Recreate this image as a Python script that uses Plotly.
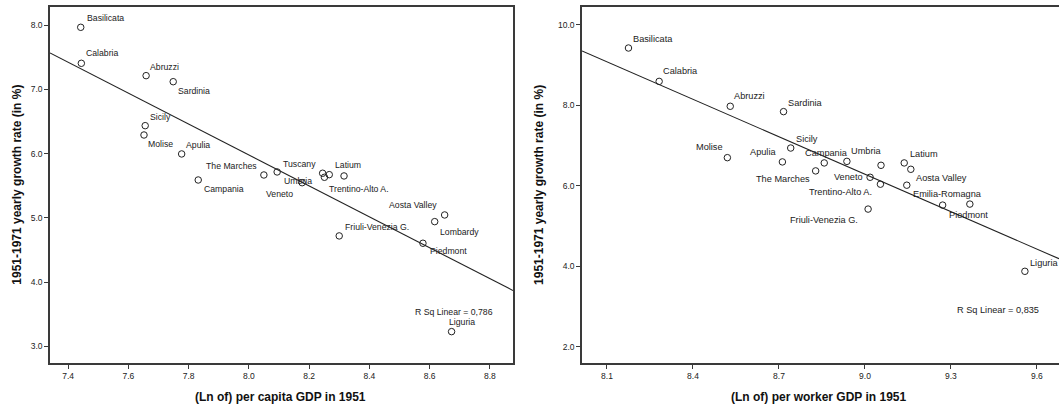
import numpy as np
import plotly.graph_objects as go

# ---------------- data ----------------
regions = ["Basilicata", "Calabria", "Abruzzi", "Sardinia", "Sicily", "Molise",
           "Apulia", "Campania", "The Marches", "Tuscany", "Veneto", "Umbria",
           "Latium", "Trentino-Alto A.", "Emilia-Romagna", "Aosta Valley",
           "Lombardy", "Piedmont", "Friuli-Venezia G.", "Liguria"]

# left panel: ln per capita GDP 1951 vs growth 1951-1971
gdp_capita_ln = [7.442, 7.444, 7.659, 7.749, 7.656, 7.652, 7.777, 7.832, 8.050, 8.094,
                 8.177, 8.245, 8.267, 8.251, 8.316, 8.650, 8.617, 8.578, 8.300, 8.673]
growth_capita = [7.964, 7.404, 7.212, 7.118, 6.434, 6.289, 5.994, 5.589, 5.667, 5.714,
                 5.547, 5.694, 5.672, 5.631, 5.652, 5.045, 4.941, 4.605, 4.719, 3.230]

# right panel: ln per worker GDP 1951 vs growth 1951-1971
gdp_worker_ln = [8.175, 8.282, 8.530, 8.716, 8.741, 8.520, 8.712, 8.858, 8.828, 9.056,
                 9.018, 8.937, 9.137, 9.054, 9.146, 9.160, 9.366, 9.271, 9.011, 9.558]
growth_worker = [9.422, 8.593, 7.975, 7.842, 6.938, 6.699, 6.593, 6.568, 6.370, 6.509,
                 6.212, 6.607, 6.568, 6.040, 6.015, 6.410, 5.546, 5.521, 5.422, 3.877]

r_sq_text = ["R Sq Linear = 0,786", "R Sq Linear = 0,835"]

x_ticks_left = [7.4, 7.6, 7.8, 8.0, 8.2, 8.4, 8.6, 8.8]
y_ticks_left = [3.0, 4.0, 5.0, 6.0, 7.0, 8.0]
x_ticks_right = [8.1, 8.4, 8.7, 9.0, 9.3, 9.6]
y_ticks_right = [2.0, 4.0, 6.0, 8.0, 10.0]

x_title_left = "(Ln of) per capita GDP in 1951"
x_title_right = "(Ln of) per worker GDP in 1951"
y_title = "1951-1971 yearly growth rate (in %)"

# ---------------- layout settings ----------------
x_range_left = [7.34, 8.877]
y_range_left = [2.742, 8.28]
x_range_right = [8.013, 9.677]
y_range_right = [1.60, 10.44]

# label placement: anchor, dx (px), dy (px, downward)
lbl_left = {
    "Basilicata": ("left", 6, -9), "Calabria": ("left", 5, -10), "Abruzzi": ("left", 4, -9),
    "Sardinia": ("left", 5, 9), "Sicily": ("left", 5, -9), "Molise": ("left", 4, 9),
    "Apulia": ("left", 4, -9), "Campania": ("left", 6, 9), "The Marches": ("right", -7, -9),
    "Tuscany": ("left", 6, -8), "Veneto": ("right", -9, 11), "Umbria": ("right", -11, 8),
    "Latium": ("left", 6, -10), "Trentino-Alto A.": ("left", 5, 12),
    "Aosta Valley": ("right", -8, -10), "Lombardy": ("left", 5, 10),
    "Piedmont": ("left", 7, 8), "Friuli-Venezia G.": ("left", 6, -9), "Liguria": ("left", -3, -10),
}
lbl_right = {
    "Basilicata": ("left", 5, -9), "Calabria": ("left", 4, -10), "Abruzzi": ("left", 4, -10),
    "Sardinia": ("left", 4, -9), "Sicily": ("left", 5, -9), "Molise": ("right", -4, -11),
    "Apulia": ("right", -6, -10), "Campania": ("left", -19, -10), "Umbria": ("left", 4, -10),
    "The Marches": ("right", -6, 8), "Veneto": ("right", -7, 0),
    "Trentino-Alto A.": ("right", -8, 8), "Latium": ("left", 6, -9),
    "Aosta Valley": ("left", 5, 9), "Emilia-Romagna": ("left", 6, 9),
    "Piedmont": ("left", 6, 10), "Friuli-Venezia G.": ("right", -10, 11),
    "Liguria": ("left", 5, -8),
}

INK = "#222222"
FONT = "Liberation Sans, Arial, sans-serif"

fig = go.Figure()

def add_panel(xs, ys, xr, xa, ya):
    xs = np.asarray(xs)
    ys = np.asarray(ys)
    slope, icpt = np.polyfit(xs, ys, 1)
    xl = np.array(xr)
    fig.add_trace(go.Scatter(x=xl, y=icpt + slope * xl, mode="lines",
                             line=dict(color=INK, width=1.1), xaxis=xa, yaxis=ya,
                             hoverinfo="skip", showlegend=False))
    fig.add_trace(go.Scatter(x=xs, y=ys, mode="markers", text=regions,
                             marker=dict(symbol="circle-open", size=6.5,
                                         line=dict(color=INK, width=1), color=INK),
                             xaxis=xa, yaxis=ya, showlegend=False))

add_panel(gdp_capita_ln, growth_capita, x_range_left, "x", "y")
add_panel(gdp_worker_ln, growth_worker, x_range_right, "x2", "y2")

annotations = []

def add_labels(xs, ys, spec, xref, yref, size):
    for name, xv, yv in zip(regions, xs, ys):
        if name not in spec:
            continue
        anc, dx, dy = spec[name]
        annotations.append(dict(x=xv, y=yv, xref=xref, yref=yref, text=name,
                                showarrow=False, xanchor=anc, yanchor="middle",
                                xshift=dx, yshift=-dy, borderpad=0, borderwidth=0,
                                font=dict(size=size, color=INK, family=FONT)))

add_labels(gdp_capita_ln, growth_capita, lbl_left, "x", "y", 8.7)
add_labels(gdp_worker_ln, growth_worker, lbl_right, "x2", "y2", 9.2)

# R squared
annotations.append(dict(x=8.682, y=3.541, xref="x", yref="y", text=r_sq_text[0],
                        showarrow=False, font=dict(size=8.7, color=INK, family=FONT)))
annotations.append(dict(x=9.464, y=2.921, xref="x2", yref="y2", text=r_sq_text[1],
                        showarrow=False, font=dict(size=9.2, color=INK, family=FONT)))

# axis titles
tfont = dict(size=12, color="#111", family=FONT)
annotations += [
    dict(x=0.228, y=-0.095, xref="paper", yref="paper", text="<b>%s</b>" % x_title_left,
         showarrow=False, font=tfont, xanchor="center", yanchor="middle"),
    dict(x=0.762, y=-0.095, xref="paper", yref="paper", text="<b>%s</b>" % x_title_right,
         showarrow=False, font=tfont, xanchor="center", yanchor="middle"),
    dict(x=-0.033, y=0.5, xref="paper", yref="paper", text="<b>%s</b>" % y_title,
         showarrow=False, font=tfont, textangle=-90, xanchor="center", yanchor="middle"),
    dict(x=0.4846, y=0.5, xref="paper", yref="paper", text="<b>%s</b>" % y_title,
         showarrow=False, font=tfont, textangle=-90, xanchor="center", yanchor="middle"),
]

axis_common = dict(showgrid=False, zeroline=False, showline=True, linecolor="#3a3a3a",
                   linewidth=1.5, ticks="outside", ticklen=4, tickwidth=1,
                   tickcolor="#3a3a3a", tickformat=".1f",
                   tickfont=dict(size=8.5, color=INK, family=FONT))

fig.update_layout(
    width=1059, height=404,
    margin=dict(l=50, r=0, t=7, b=41),
    paper_bgcolor="white", plot_bgcolor="white",
    font=dict(family=FONT, color=INK),
    xaxis=dict(domain=[0, 0.4589], range=x_range_left, tickvals=x_ticks_left,
               mirror=True, anchor="y", **axis_common),
    yaxis=dict(domain=[0, 1], range=y_range_left, tickvals=y_ticks_left,
               mirror=True, anchor="x", **axis_common),
    xaxis2=dict(domain=[0.5273, 1], range=x_range_right, tickvals=x_ticks_right,
                mirror=True, anchor="y2", **axis_common),
    yaxis2=dict(domain=[0, 1], range=y_range_right, tickvals=y_ticks_right,
                mirror=False, anchor="x2", **axis_common),
    annotations=annotations,
    showlegend=False,
)

fig.write_html("out.html", config={"displayModeBar": False},
               post_script="document.body.style.margin='0';document.body.style.overflow='hidden';")
